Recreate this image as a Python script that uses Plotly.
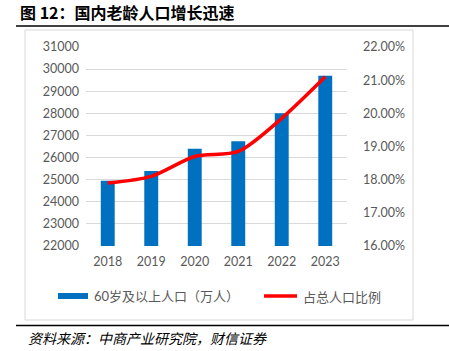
import plotly.graph_objects as go

years = ["2018", "2019", "2020", "2021", "2022", "2023"]
elderly = [24949, 25388, 26402, 26736, 28004, 29697]
ratio = [17.9, 18.1, 18.7, 18.85, 19.85, 21.1]
left_ticks = list(range(22000, 31001, 1000))
right_ticks = [16, 17, 18, 19, 20, 21, 22]

W, H = 449, 351
L, R, T, B = 86, 347, 47, 246
pw, ph = R - L, B - T

def px(x):
    return (x - L) / pw

def py(y):
    return (B - y) / ph

tick_font = dict(family="Lato, 'Noto Sans CJK SC', sans-serif", size=12.5, color="#595959")
cjk = "'Noto Sans CJK SC', sans-serif"

fig = go.Figure()
fig.add_trace(go.Bar(x=years, y=elderly, marker=dict(color="#0070C0", line=dict(width=0)),
                     name="60岁及以上人口（万人）", yaxis="y"))
fig.add_trace(go.Scatter(x=years, y=ratio, mode="lines", line=dict(color="#FF0000", width=3.5, shape="spline", smoothing=0.8),
                         name="占总人口比例", yaxis="y2"))

shapes = [
    dict(type="rect", xref="paper", yref="paper", x0=px(25), x1=px(413), y0=py(320), y1=py(30),
         line=dict(color="#D9D9D9", width=1), fillcolor="rgba(0,0,0,0)", layer="below"),
    dict(type="line", xref="paper", yref="paper", x0=px(16), x1=px(449), y0=py(26), y1=py(26),
         line=dict(color="#000000", width=1.5)),
    dict(type="line", xref="paper", yref="paper", x0=px(16), x1=px(449), y0=py(325.5), y1=py(325.5),
         line=dict(color="#000000", width=1.5)),
    dict(type="rect", xref="paper", yref="paper", x0=px(58), x1=px(88), y0=py(299), y1=py(293),
         line=dict(width=0), fillcolor="#0070C0"),
    dict(type="line", xref="paper", yref="paper", x0=px(264), x1=px(297), y0=py(296), y1=py(296),
         line=dict(color="#FF0000", width=3.5)),
]

annotations = [
    dict(text="<b>图 12：国内老龄人口增长迅速</b>", xref="paper", yref="paper", x=px(18), y=py(12),
         xanchor="left", yanchor="middle", showarrow=False,
         font=dict(family=cjk, size=16, color="#000000")),
    dict(text="60岁及以上人口（万人）", xref="paper", yref="paper", x=px(92), y=py(296),
         xanchor="left", yanchor="middle", showarrow=False,
         font=dict(family="Lato, " + cjk, size=13, color="#595959")),
    dict(text="占总人口比例", xref="paper", yref="paper", x=px(301), y=py(296),
         xanchor="left", yanchor="middle", showarrow=False,
         font=dict(family=cjk, size=13, color="#595959")),
    dict(text="<i>资料来源：中商产业研究院，财信证券</i>", xref="paper", yref="paper", x=px(26), y=py(338),
         xanchor="left", yanchor="middle", showarrow=False,
         font=dict(family=cjk, size=14, color="#000000")),
]

fig.update_layout(
    width=W, height=H,
    margin=dict(l=L, r=W - R, t=T, b=H - B, pad=0),
    paper_bgcolor="white", plot_bgcolor="white",
    showlegend=False,
    bargap=0.68,
    xaxis=dict(type="category", tickfont=tick_font, showgrid=False, showline=False, ticks="",
               ticklabelstandoff=6),
    yaxis=dict(range=[22000, 31000], tickvals=left_ticks, ticktext=[str(v) for v in left_ticks],
               tickfont=tick_font, showgrid=True, gridcolor="#D9D9D9", gridwidth=1,
               zeroline=False, showline=False, ticks="", ticklabelstandoff=6),
    yaxis2=dict(range=[16, 22], tickvals=right_ticks, ticktext=[f"{v:.2f}%" for v in right_ticks],
                overlaying="y", side="right", tickfont=tick_font, showgrid=False,
                zeroline=False, showline=False, ticks="", ticklabelstandoff=15),
    shapes=shapes,
    annotations=annotations,
)

fig.write_html("out.html")
